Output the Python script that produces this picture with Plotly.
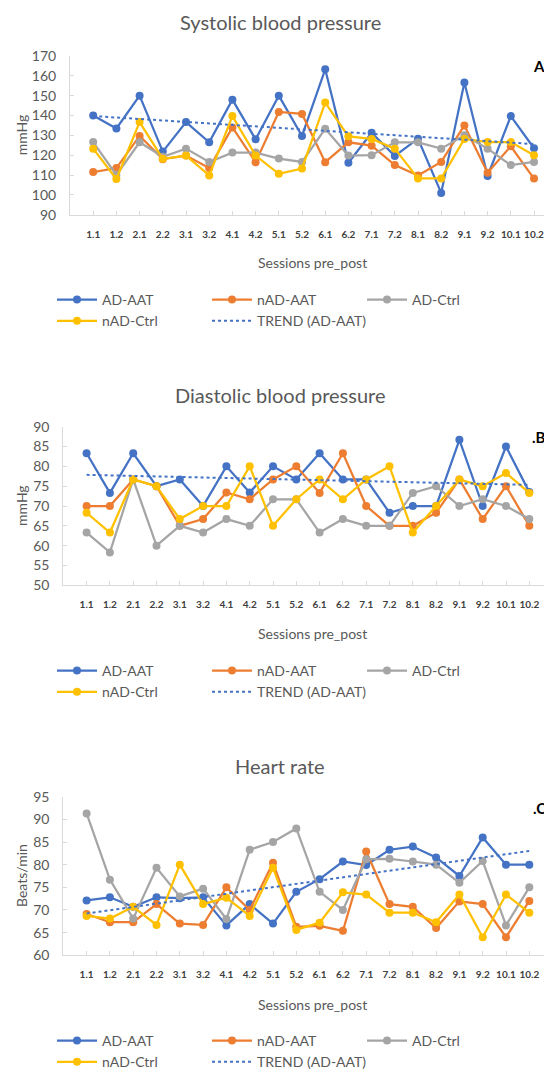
import numpy as np
import plotly.graph_objects as go

sessions = ["1.1", "1.2", "2.1", "2.2", "3.1", "3.2", "4.1", "4.2", "5.1", "5.2",
            "6.1", "6.2", "7.1", "7.2", "8.1", "8.2", "9.1", "9.2", "10.1", "10.2"]

# Systolic blood pressure (mmHg)
sys_ad_aat = [140, 133.5, 150, 121.8, 136.7, 126.5, 148, 128, 150, 129.7,
              163.3, 116.2, 131.3, 119.6, 128.3, 101, 156.6, 109.5, 139.7, 123.5]
sys_nad_aat = [111.5, 113.5, 129.7, 118, 119.8, 113.5, 134, 116.5, 141.8, 140.8,
               116.5, 126.5, 124.8, 115, 109.8, 116.6, 135, 111.2, 124.5, 108.2]
sys_ad_ctrl = [126.6, 110, 126.5, 119.2, 123.3, 116.6, 121.3, 121.3, 118.3, 116.6,
               133.3, 119.8, 120, 126.5, 126.5, 123.3, 130, 123.3, 115, 116.6]
sys_nad_ctrl = [123.3, 108, 136.7, 118.2, 119.8, 109.8, 139.7, 119.8, 110.6, 113.3,
                146.5, 129.5, 128.2, 123.3, 108.3, 108.3, 128.2, 126.6, 126.6, 120]

# Diastolic blood pressure (mmHg)
dia_ad_aat = [83.3, 73.3, 83.3, 75, 76.7, 70, 80, 73.4, 80, 76.7,
              83.3, 76.7, 76.7, 68.3, 70, 70, 86.7, 70, 85, 73.5]
dia_nad_aat = [70, 70, 76.7, 75, 65, 66.7, 73.4, 71.7, 76.7, 80,
               73.3, 83.3, 70, 65, 65, 68.3, 76.7, 66.7, 75, 65]
dia_ad_ctrl = [63.3, 58.3, 76.7, 60, 65, 63.3, 66.7, 65, 71.7, 71.7,
               63.3, 66.7, 65, 65, 73.3, 75, 70, 71.7, 70, 66.7]
dia_nad_ctrl = [68.3, 63.3, 76.7, 75, 66.7, 70, 70, 80, 65, 71.7,
                76.7, 71.7, 76.7, 80, 63.3, 70, 76.7, 75, 78.3, 73.3]

# Heart rate (beats/min)
hr_ad_aat = [72.1, 72.8, 70.7, 72.8, 72.6, 72.8, 66.6, 71.3, 67, 74,
             76.8, 80.7, 79.9, 83.3, 84, 81.6, 77.5, 86, 80, 80]
hr_nad_aat = [69.1, 67.3, 67.3, 71.3, 67, 66.7, 75, 70, 80.4, 66.3,
              66.5, 65.4, 82.9, 71.3, 70.7, 66, 71.9, 71.3, 64, 72]
hr_ad_ctrl = [91.3, 76.7, 68.1, 79.3, 73, 74.7, 68, 83.3, 85, 88,
              74, 70, 81.2, 81.3, 80.7, 80, 76, 80.8, 66.6, 75]
hr_nad_ctrl = [68.7, 68.1, 70.7, 66.7, 80, 71.3, 72.7, 68.7, 79.3, 65.6,
               67.2, 73.9, 73.4, 69.4, 69.4, 67.3, 73.4, 64, 73.4, 69.4]

names = ["AD-AAT", "nAD-AAT", "AD-Ctrl", "nAD-Ctrl"]
colors = ["#4472C4", "#ED7D31", "#A5A5A5", "#FFC000"]
trend_name = "TREND (AD-AAT)"

panels = [
    dict(title="Systolic blood pressure", ytitle="mmHg", label="A",
         series=[sys_ad_aat, sys_nad_aat, sys_ad_ctrl, sys_nad_ctrl],
         yrange=[90, 170], dtick=10,
         left=70, spacing=23.2, top=56, bottom=214.7, title_y=22,
         xtitle_y=262, leg_y=284, label_y=66),
    dict(title="Diastolic blood pressure", ytitle="mmHg", label=".B",
         series=[dia_ad_aat, dia_nad_aat, dia_ad_ctrl, dia_nad_ctrl],
         yrange=[50, 90], dtick=5,
         left=63.3, spacing=23.3, top=426.7, bottom=585.3, title_y=395,
         xtitle_y=633, leg_y=655, label_y=437),
    dict(title="Heart rate", ytitle="Beats/min", label=".C",
         series=[hr_ad_aat, hr_nad_aat, hr_ad_ctrl, hr_nad_ctrl],
         yrange=[60, 95], dtick=5,
         left=63.3, spacing=23.3, top=796.7, bottom=955.3, title_y=766,
         xtitle_y=1004, leg_y=1025, label_y=808),
]

# The page body has an 8px margin; the figure starts there and runs to the window edge.
OFF = 8
W, H = 552 - OFF, 1077 - OFF


def px(x):
    return (x - OFF) / W


def py(y):
    return 1 - (y - OFF) / H


FONT = "Lato"
GRAY_TXT = "#595959"
AXIS_C = "#D9D9D9"

fig = go.Figure()
annotations = []
layout = {}

idx = np.arange(len(sessions))
for p_i, p in enumerate(panels):
    n = "" if p_i == 0 else str(p_i + 1)
    xa, ya = "x" + n, "y" + n
    leg = "legend" + n
    for vals, nm, col in zip(p["series"], names, colors):
        fig.add_trace(go.Scatter(
            x=sessions, y=vals, name=nm, mode="lines+markers",
            line=dict(color=col, width=2.25),
            marker=dict(color=col, size=8),
            xaxis=xa, yaxis=ya, legend=leg))
    slope, icpt = np.polyfit(idx, np.array(p["series"][0]), 1)
    fig.add_trace(go.Scatter(
        x=sessions, y=(slope * idx + icpt).tolist(), name=trend_name, mode="lines",
        line=dict(color="#4472C4", width=2, dash="dot"),
        xaxis=xa, yaxis=ya, legend=leg))

    right_edge = OFF + W
    xr_end = -1 + (right_edge - p["left"]) / p["spacing"]
    layout["xaxis" + n] = dict(
        domain=[px(p["left"]), 1.0], type="category", categoryarray=sessions,
        range=[-1, xr_end], anchor=ya, showline=True, linecolor=AXIS_C, linewidth=1,
        ticks="inside", ticklen=4, tickcolor=AXIS_C, showgrid=False, zeroline=False,
        tickfont=dict(family=FONT, size=10, color="#404040", weight="bold"),
        ticklabelstandoff=10, tickangle=0)
    layout["yaxis" + n] = dict(
        domain=[py(p["bottom"]), py(p["top"])], range=p["yrange"],
        dtick=p["dtick"], anchor=xa, showline=True, linecolor=AXIS_C, linewidth=1,
        ticks="inside", ticklen=4, tickcolor=AXIS_C, showgrid=False, zeroline=False,
        tickfont=dict(family=FONT, size=14, color=GRAY_TXT), ticklabelstandoff=10)
    layout[leg] = dict(
        orientation="h", x=px(52), xanchor="left", y=py(p["leg_y"]), yanchor="top",
        entrywidth=100, entrywidthmode="pixels", itemwidth=40,
        font=dict(family=FONT, size=14, color=GRAY_TXT), bgcolor="rgba(0,0,0,0)",
        tracegroupgap=0)

    common = dict(xref="paper", yref="paper", showarrow=False,
                  xanchor="center", yanchor="middle")
    annotations.append(dict(text=p["title"], x=px(280), y=py(p["title_y"]),
                            font=dict(family=FONT, size=20, color=GRAY_TXT), **common))
    annotations.append(dict(text=p["ytitle"], x=px(21),
                            y=py((p["top"] + p["bottom"]) / 2), textangle=-90,
                            font=dict(family=FONT, size=14, color=GRAY_TXT), **common))
    annotations.append(dict(text="Sessions pre_post", x=px(312), y=py(p["xtitle_y"]),
                            font=dict(family=FONT, size=14, color=GRAY_TXT), **common))
    annotations.append(dict(text="<b>" + p["label"] + "</b>", x=px(539),
                            y=py(p["label_y"]),
                            font=dict(family=FONT, size=15, color="#000000"), **common))

fig.update_layout(
    width=W, height=H, margin=dict(l=0, r=0, t=0, b=0, autoexpand=False),
    paper_bgcolor="white", plot_bgcolor="white",
    annotations=annotations, **layout)

fig.write_html("out.html")
